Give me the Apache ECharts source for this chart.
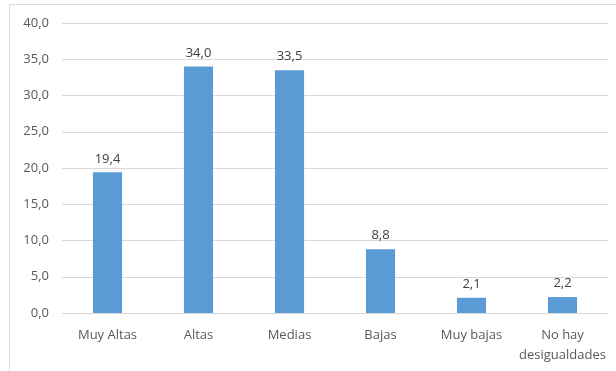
<!DOCTYPE html>
<html><head><meta charset="utf-8">
<script src="https://cdn.jsdelivr.net/npm/echarts@6/dist/echarts.min.js"></script>
<style>html,body{margin:0;padding:0;background:#fff}#c{width:616px;height:371px}</style>
</head><body><div id="c"></div>
<script>
const categories = ['Muy Altas', 'Altas', 'Medias', 'Bajas', 'Muy bajas', 'No hay\ndesigualdades'];
const values = [19.4, 34.0, 33.5, 8.8, 2.1, 2.2];
const fmt = v => Number(v).toFixed(1).replace('.', ',');
const chart = echarts.init(document.getElementById('c'), null, {renderer: 'canvas'});
chart.setOption({
  animation: false,
  textStyle: {fontFamily: 'Open Sans, sans-serif'},
  graphic: [{type: 'rect', shape: {x: 9.5, y: 4.5, width: 620, height: 380}, style: {fill: 'none', stroke: '#d9d9d9', lineWidth: 1}}],
  grid: {left: 62, right: 8, top: 23, bottom: 58},
  xAxis: {
    type: 'category', data: categories,
    axisLine: {lineStyle: {color: '#d9d9d9'}},
    axisTick: {show: false},
    axisLabel: {color: '#595959', fontSize: 13, margin: 12, lineHeight: 20, interval: 0}
  },
  yAxis: {
    type: 'value', min: 0, max: 40, interval: 5,
    axisLine: {show: false}, axisTick: {show: false},
    splitLine: {lineStyle: {color: '#d9d9d9'}},
    axisLabel: {color: '#595959', fontSize: 13, margin: 13, formatter: fmt}
  },
  series: [{
    type: 'bar', data: values, barWidth: '32%',
    itemStyle: {color: '#5b9bd5'},
    label: {show: true, position: 'top', color: '#404040', fontSize: 13, distance: 7, formatter: p => fmt(p.value)}
  }]
});
</script></body></html>
